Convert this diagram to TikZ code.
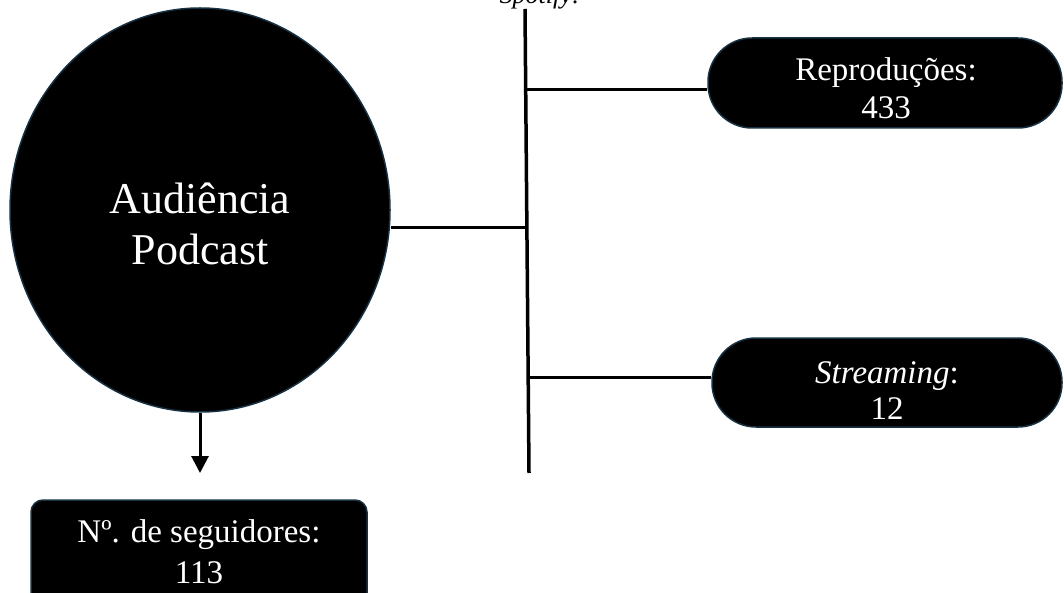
\documentclass[tikz,border=0pt]{standalone}
\usepackage{fontspec}
\setmainfont{Liberation Serif}
\usetikzlibrary{shapes.geometric,arrows.meta}
\definecolor{edgeblue}{RGB}{24,50,68}
\begin{document}
\begin{tikzpicture}[x=1pt,y=-1pt,
  conn/.style={line width=3.5pt,black},
  blob/.style={fill=black,draw=edgeblue,line width=1.5pt,inner sep=0pt},
  boxtext/.style={text=white,align=center,inner sep=0pt},
  lbl/.style={font=\fontsize{33}{38}\selectfont}
]
\useasboundingbox (0,0) rectangle (1064,593);
\clip (0,0) rectangle (1064,593);

% title (cut off at top, as in the reference)
\node[anchor=base,inner sep=0pt,font=\fontsize{26}{30}\selectfont\itshape] (title) at (540,4) {Spotify:};

% shapes
\node[blob,ellipse,minimum width=380pt,minimum height=404pt] (aud) at (200,210) {};
\node[boxtext,font=\fontsize{44}{51}\selectfont] (audtxt) at (200,224) {Audiência\\Podcast};

\node[blob,rounded corners=44pt,minimum width=354pt,minimum height=90pt] (rep) at (885,83) {};
\node[boxtext,lbl] (reptxt) at (886,88) {Reproduções:\\433};

\node[blob,rounded corners=44pt,minimum width=350pt,minimum height=89pt] (str) at (887,382.5) {};
\node[boxtext,font=\fontsize{33}{36}\selectfont] (strtxt) at (887,391) {\textit{Streaming}:\\12};

\node[blob,rounded corners=12pt,minimum width=336pt,minimum height=112pt] (seg) at (199,556) {};
\node[boxtext,font=\fontsize{33}{41}\selectfont] (segtxt) at (199,552) {Nº. de seguidores:\\113};

% connectors
\coordinate (vtop) at (525,9);
\coordinate (vbot) at (529,473);
\coordinate (j1) at (526.5,90);
\coordinate (j2) at (527,228);
\coordinate (j3) at (528,377);
\draw[conn] (vtop) -- (vbot);
\draw[conn,line width=3pt] (j2 -| aud.east) -- (j2);
\draw[conn,line width=3pt] (j1) -- (j1 -| rep.west);
\draw[conn,line width=3pt] (j3) -- (j3 -| str.west);
\coordinate (arrend) at (200,473);
\draw[conn,line width=3pt,-{Triangle[width=17pt,length=17pt]}] (aud.south) -- (arrend);
\end{tikzpicture}
\end{document}
